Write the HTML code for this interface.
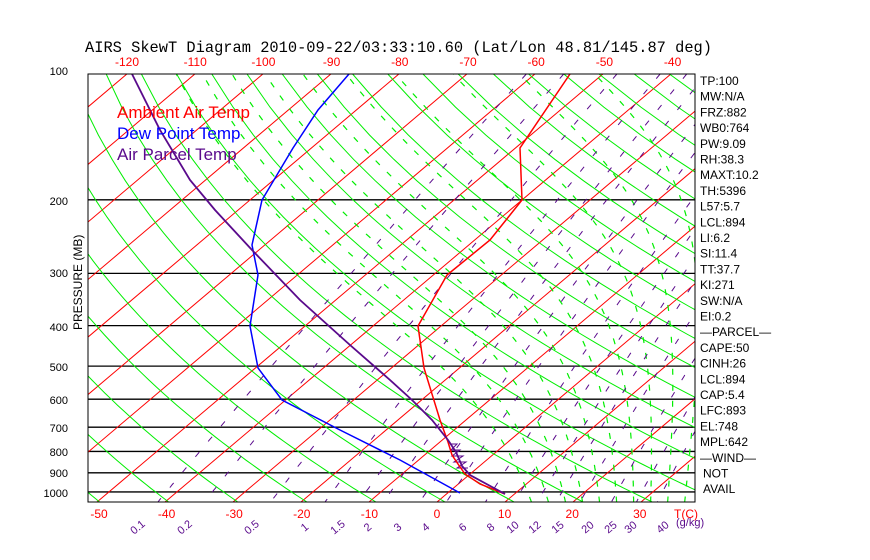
<!DOCTYPE html>
<html><head><meta charset="utf-8"><style>
body{margin:0;background:#fff;width:870px;height:560px;overflow:hidden}
svg{display:block}
</style></head><body>
<svg id="s" width="870" height="560" xmlns="http://www.w3.org/2000/svg" font-family="Liberation Sans, sans-serif">
<defs><clipPath id="c"><rect x="88" y="74" width="607" height="428"/></clipPath></defs>
<rect width="870" height="560" fill="#fff"/>
<g id="grid" clip-path="url(#c)"></g>
<g id="prof" clip-path="url(#c)"></g>
<rect x="88" y="74" width="607" height="428" fill="none" stroke="#000" stroke-width="1"/>
<g id="lab"></g>
<text x="85" y="52" font-size="16" fill="#000" style="font-family:'Liberation Mono',monospace" textLength="627" lengthAdjust="spacingAndGlyphs">AIRS SkewT Diagram 2010-09-22/03:33:10.60 (Lat/Lon 48.81/145.87 deg)</text>
<text x="117" y="118" font-size="17" fill="#f00">Ambient Air Temp</text>
<text x="117" y="139" font-size="17" fill="#00f">Dew Point Temp</text>
<text x="117" y="160" font-size="17" fill="#5a0a8c">Air Parcel Temp</text>
<text transform="translate(82,330) rotate(-90)" font-size="12" fill="#000">PRESSURE (MB)</text>
</svg>
<script>
var NS="http://www.w3.org/2000/svg";
function el(p,t,a,txt){var e=document.createElementNS(NS,t);for(var k in a)e.setAttribute(k,a[k]);if(txt!=null)e.textContent=txt;document.getElementById(p).appendChild(e);return e;}
function Y(p){return 74+181.5*Math.log(p/100);}
function X(T,p){var y=Y(p);return 437+6.8*T+1.182*(502-y);}
var g="grid";
[200,300,400,500,600,700,800,900,1000].forEach(function(p){el(g,"line",{x1:88,x2:695,y1:Y(p),y2:Y(p),stroke:"#000","stroke-width":1.3});});
for(var T=-160;T<=50;T+=10){el(g,"line",{x1:X(T,1057),y1:502,x2:X(T,100),y2:74,stroke:"#f00","stroke-width":1});}
for(var th=190;th<=560;th+=10){var d="";for(var p=100;p<=1060;p+=20){var t=th*Math.pow(p/1000,0.286)-273.15;d+=(d?"L":"M")+X(t,p).toFixed(1)+","+Y(p).toFixed(1);}el(g,"path",{d:d,fill:"none",stroke:"#0e0","stroke-width":1});}
function es(t){return 6.112*Math.exp(17.67*t/(t+243.5));}
for(var t0=14;t0<=38;t0+=2.5){(function(t0){var t=t0,d="";for(var p=1060;p>=100;p-=5){d+=(d?"L":"M")+X(t,p).toFixed(1)+","+Y(p).toFixed(1);var T=t+273.15,ws=0.622*es(t)/(p-es(t)),L=2.5e6;var gm=(0.286*T/p)*(1+L*ws/(287*T))/(1+L*L*ws*0.622/(1005*287*T*T));t-=gm*5;}el(g,"path",{d:d,fill:"none",stroke:"#0e0","stroke-width":1.2,"stroke-dasharray":"6,10"});})(t0);}
[0.1,0.2,0.5,1,1.5,2,3,4,6,8,10,12,15,20,25,30,40].forEach(function(w){var d="";for(var p=100;p<=1060;p+=10){var e=w*p/(622+w),l=Math.log(e/6.112),t=243.5*l/(17.67-l);d+=(d?"L":"M")+X(t,p).toFixed(1)+","+Y(p).toFixed(1);}el(g,"path",{d:d,fill:"none",stroke:"#5a0a8c","stroke-width":1,"stroke-dasharray":"6,14"});});
function pl(pts,c,w){el("prof","polyline",{points:pts,fill:"none",stroke:c,"stroke-width":w});}
pl("450,444 457,444 451,450 460,450 452,456 463,456 454,462 466,462 457,468 468,468","#5a0a8c",1);
pl("570,74 520,148 522,200 490,240 447,275 418,326 424,368 440,420 448,442 452,455 458,464 465,474 480,484 505,494","#f00",1.5);
pl("349,74 318,110 293,148 262,200 252,245 258,275 250,326 258,368 282,400 340,430 400,460 460,493","#00f",1.5);
pl("132,74 160,130 190,180 215,210 252,250 300,300 350,345 390,380 412,400 432,420 448,440 456,452 462,466 470,475 505,494","#5a0a8c",1.8);
[[100,71],[200,201],[300,273],[400,327],[500,367],[600,400],[700,428],[800,452],[900,473],[1000,493]].forEach(function(a){el("lab","text",{x:68,y:a[1]+4,"font-size":11,"text-anchor":"end",fill:"#000"},a[0]);});
for(var i=0;i<9;i++){el("lab","text",{x:127+68.2*i,y:66,"font-size":12,"text-anchor":"middle",fill:"#f00"},-120+10*i);}
for(var i=0;i<9;i++){el("lab","text",{x:99+67.6*i,y:518,"font-size":12,"text-anchor":"middle",fill:"#f00"},-50+10*i);}
el("lab","text",{x:686,y:518,"font-size":12,"text-anchor":"middle",fill:"#f00"},"T(C)");
[["0.1",140],["0.2",187],["0.5",254],["1",307],["1.5",340],["2",370],["3",400],["4",428],["6",465],["8",493],["10",515],["12",537],["15",560],["20",590],["25",613],["30",633],["40",665]].forEach(function(a){el("lab","text",{transform:"translate("+a[1]+",530) rotate(-40)","font-size":11,"text-anchor":"middle",fill:"#5a0a8c"},a[0]);});
el("lab","text",{x:676,y:526,"font-size":11,fill:"#5a0a8c"},"(g/kg)");
var R=["TP:100","MW:N/A","FRZ:882","WB0:764","PW:9.09","RH:38.3","MAXT:10.2","TH:5396","L57:5.7","LCL:894","LI:6.2","SI:11.4","TT:37.7","KI:271","SW:N/A","EI:0.2","\u2014PARCEL\u2014","CAPE:50","CINH:26","LCL:894","CAP:5.4","LFC:893","EL:748","MPL:642","\u2014WIND\u2014","NOT","AVAIL"];
R.forEach(function(s,i){el("lab","text",{x:i>=25?703:700,y:85+15.7*i,"font-size":12,fill:"#000"},s);});
</script>
</body></html>
